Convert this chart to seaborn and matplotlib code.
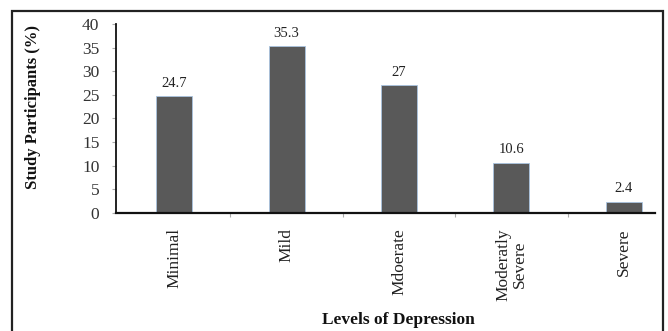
import matplotlib
matplotlib.use("Agg")
import matplotlib.pyplot as plt
import seaborn as sns
import pandas as pd
from matplotlib.patches import Rectangle

levels = ["Minimal", "Mild", "Mdoerate", "Moderatly\nSevere", "Severe"]
percent = [24.7, 35.3, 27, 10.6, 2.4]
y_ticks = [0, 5, 10, 15, 20, 25, 30, 35, 40]

sns.set_theme(style="white")
plt.rcParams["font.family"] = ["Liberation Serif", "DejaVu Serif"]

df = pd.DataFrame({"level": levels, "percent": percent})

fig = plt.figure(figsize=(6.68, 3.31), dpi=100)
ax = fig.add_axes([116 / 668, 1 - 213 / 331, (655 - 116) / 668, (213 - 24) / 331])

sns.barplot(data=df, x="level", y="percent", color="#595959", width=0.32,
            saturation=1, edgecolor="#a9c4e0", linewidth=0.6, ax=ax)

ax.set_xlim(-0.516, 4.276)
ax.set_ylim(0, 40)
ax.set_yticks(y_ticks)
ax.set_yticklabels([str(t) for t in y_ticks])

# value labels above each bar
for i, v in enumerate(percent):
    ax.text(i, v + 1.4, f"{v:g}", ha="center", va="bottom", fontsize=10.5, color="#222222")

# category separators as small ticks on the x axis
ax.set_xticks([0.5, 1.5, 2.5, 3.5], minor=True)
ax.tick_params(axis="x", which="minor", length=3, width=0.8, color="#aaaaaa", direction="out", bottom=True)
ax.tick_params(axis="x", which="major", length=0, pad=11, labelsize=12.5, labelcolor="#222222")
for lab in ax.get_xticklabels():
    lab.set_rotation(90)
    lab.set_multialignment("center")
    lab.set_linespacing(1.0)
ax.tick_params(axis="y", which="major", length=3, width=0.8, color="#aaaaaa", direction="out",
               left=True, pad=9, labelsize=12.5, labelcolor="#333333")

for side in ["top", "right"]:
    ax.spines[side].set_visible(False)
ax.spines["left"].set_color("#111111")
ax.spines["left"].set_linewidth(1.3)
ax.spines["bottom"].set_color("#111111")
ax.spines["bottom"].set_linewidth(1.6)

ax.set_xlabel("")
ax.set_ylabel("")
fig.text(33 / 668, 1 - 107 / 331, "Study Participants (%)", rotation=90, ha="center", va="center",
         fontsize=12, fontweight="bold", color="#111111")
fig.text(398 / 668, 1 - 320 / 331, "Levels of Depression", ha="center", va="center",
         fontsize=12.5, fontweight="bold", color="#111111")

# outer frame around the chart
fig.patches.append(Rectangle((12 / 668, -0.05), (663 - 12) / 668, 1.05 - 11 / 331,
                             transform=fig.transFigure, fill=False, edgecolor="#222222",
                             linewidth=1.6, zorder=10))

fig.savefig("out.png", dpi=100)
